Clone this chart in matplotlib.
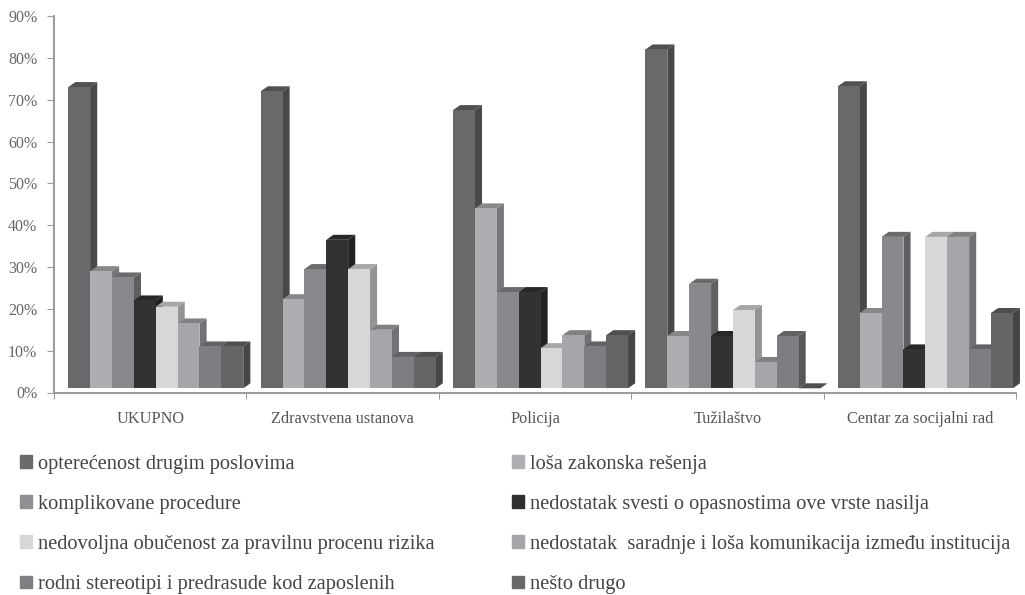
import numpy as np
import matplotlib.pyplot as plt
from matplotlib.patches import Patch

plt.rcParams['font.family'] = ['Liberation Serif', 'DejaVu Serif']

categories = ["UKUPNO", "Zdravstvena ustanova", "Policija", "Tužilaštvo", "Centar za socijalni rad"]
series_names = ["opterećenost drugim poslovima", "loša zakonska rešenja",
                "komplikovane procedure", "nedostatak svesti o opasnostima ove vrste nasilja",
                "nedovoljna obučenost za pravilnu procenu rizika",
                "nedostatak  saradnje i loša komunikacija između institucija",
                "rodni stereotipi i predrasude kod zaposlenih", "nešto drugo"]

opterecenost = [72, 71, 66.5, 81, 72.2]
losa_resenja = [28, 21.3, 43, 12.5, 18]
procedure = [26.5, 28.5, 23, 25, 36.2]
svest = [21, 35.5, 23, 12.5, 9.3]
obucenost = [19.5, 28.5, 9.6, 18.7, 36.2]
saradnja = [15.5, 14, 12.7, 6.3, 36.2]
stereotipi = [10, 7.5, 10, 12.5, 9.3]
drugo = [10, 7.5, 12.7, 0, 18]
values = [opterecenost, losa_resenja, procedure, svest, obucenost, saradnja, stereotipi, drugo]

front = ["#69696c", "#adaeb1", "#88898c", "#323232", "#d6d7d9", "#a5a6a9", "#7d7e81", "#656568"]
side = ["#48484a", "#77787a", "#5e5f61", "#222222", "#939496", "#717274", "#565759", "#464648"]
top = ["#515153", "#87888a", "#6a6b6d", "#282828", "#a6a7a9", "#808183", "#616264", "#4f4f51"]
legend_col = ["#6a6a6d", "#aeafb2", "#8f9093", "#2f2f2f", "#d6d7d9", "#a5a6a9", "#7e7f82", "#67676a"]

W, H = 1025, 595
fig = plt.figure(figsize=(W/100, H/100), dpi=100)
ax = fig.add_axes([54/W, 1-392.5/H, 962/W, 376.5/H])
ax.set_xlim(0, 5)
ax.set_ylim(0, 90)

bw = 0.1137
start = 0.074
base = 1.0
dx = 0.037
dy = 1.2

for c in range(len(categories)):
    for s in range(8):
        v = values[s][c]
        x0 = c + start + s*bw
        x1 = x0 + bw
        y1 = base + v
        ax.fill([x1, x1+dx, x1+dx, x1], [base, base+dy, y1+dy, y1], color=side[s], lw=0, clip_on=False)
        ax.fill([x0, x0+dx, x1+dx, x1], [y1, y1+dy, y1+dy, y1], color=top[s], lw=0, clip_on=False)
        ax.bar(x0, v, bw, bottom=base, align='edge', color=front[s], lw=0)

for sp in ['top', 'right']:
    ax.spines[sp].set_visible(False)
for sp in ['left', 'bottom']:
    ax.spines[sp].set_color('#9a9a9d')
    ax.spines[sp].set_linewidth(1.4)

ax.set_yticks(np.arange(0, 100, 10))
ax.set_yticklabels([f"{t}%" for t in range(0, 100, 10)], fontsize=11.5, color='#666666')
ax.set_xticks(range(6))
ax.set_xticklabels([])
ax.set_xticks(np.arange(5)+0.5, categories, minor=True, fontsize=11.7, color='#555555')
ax.tick_params(axis='y', length=5, color='#9a9a9d', pad=7)
ax.tick_params(axis='x', which='major', length=4, color='#9a9a9d')
ax.tick_params(axis='x', which='minor', length=0, pad=13)

# legend fills column by column, picture reads row by row
handles = [Patch(color=legend_col[i], label=series_names[i]) for i in range(8)]
order = [0, 2, 4, 6, 1, 3, 5, 7]
fig.legend([handles[i] for i in order], [series_names[i] for i in order], ncols=2,
           loc='upper left', bbox_to_anchor=(20/W, 1-454.5/H), frameon=False,
           fontsize=14.7, labelcolor='#444444', labelspacing=1.04,
           handlelength=0.6, handleheight=0.6, handletextpad=0.3,
           columnspacing=3.77, borderpad=0, borderaxespad=0)

fig.savefig('out.png', dpi=100)
